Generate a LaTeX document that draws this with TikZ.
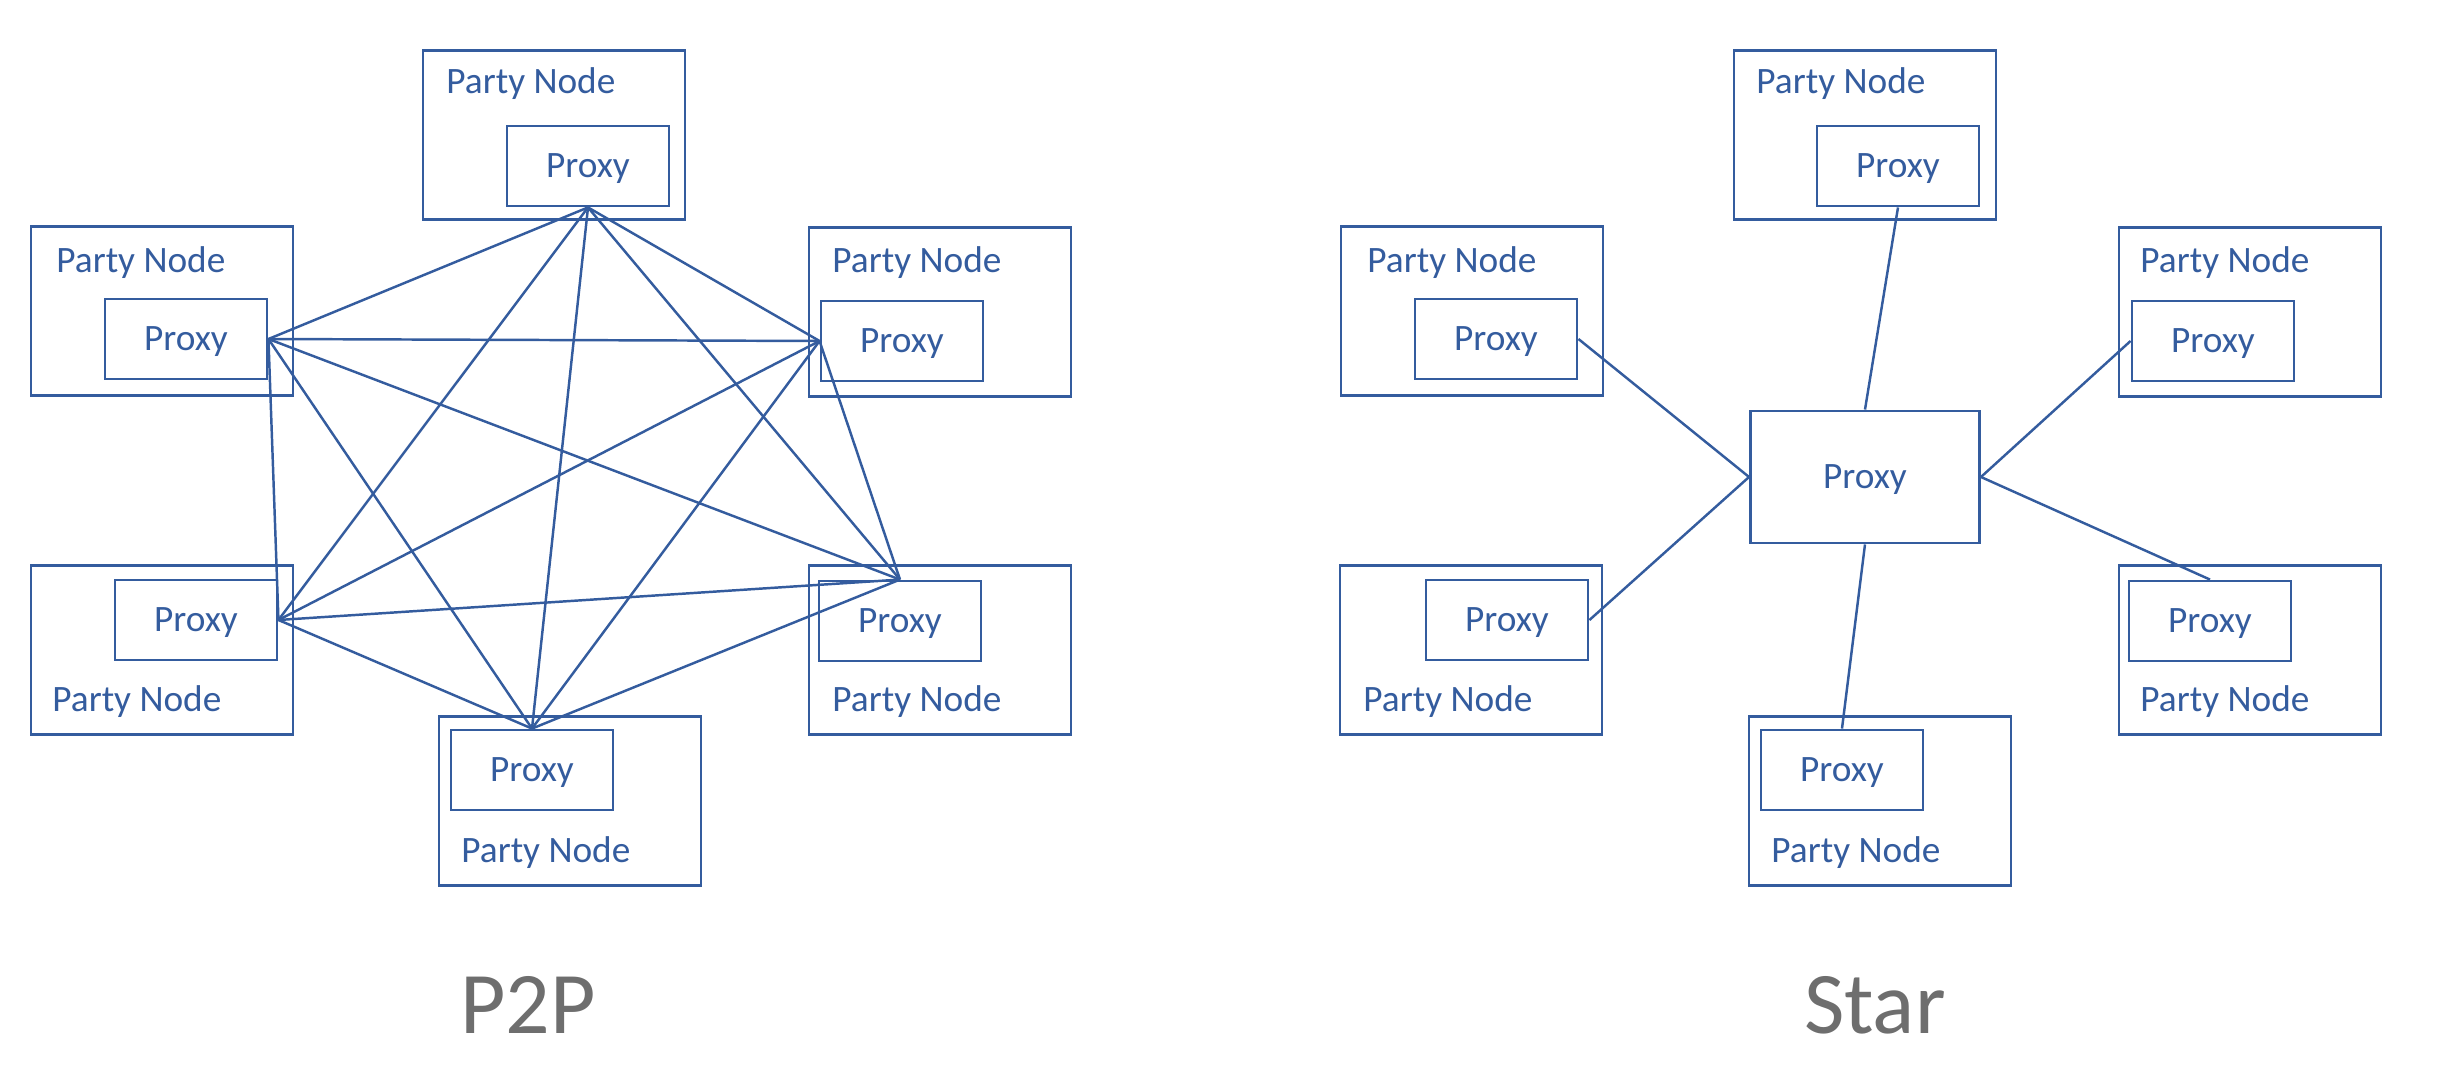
\documentclass[tikz,border=0pt]{standalone}
\usepackage{fontspec}
\setmainfont{Carlito}
\usetikzlibrary{shapes}
\definecolor{netblue}{RGB}{52,92,158}
\definecolor{capgray}{RGB}{110,110,110}

\begin{document}
\begin{tikzpicture}[x=0.01cm,y=-0.01cm,line width=0.8pt,
    party/.style={shape=rectangle,draw=netblue,minimum width=2.62cm,minimum height=1.69cm,inner sep=0pt},
    proxy/.style={shape=rectangle,draw=netblue,text=netblue,minimum width=1.62cm,minimum height=0.8cm,inner sep=0pt,text depth=0pt,font=\fontsize{10.6}{12}\selectfont},
    hub/.style={proxy,minimum width=2.29cm,minimum height=1.32cm},
    tag/.style={anchor=base west,inner sep=0pt,text=netblue,font=\fontsize{10.6}{12}\selectfont},
    title/.style={anchor=base,inner sep=0pt,text=capgray,font=\fontsize{25}{30}\selectfont},
    link/.style={draw=netblue,line width=0.7pt}]
                \useasboundingbox (0,0) rectangle (2462,1070);
                % P2P
                \node[party](pT)at(554, 135){};
                \node[tag](pTl)at(445, 94){Party Node};
                \node[proxy](pTx)at(588, 166){Proxy};
                \node[party](pUL)at(162, 311){};
                \node[tag](pULl)at(55, 273){Party Node};
                \node[proxy](pULx)at(186, 339){Proxy};
                \node[party](pUR)at(940, 312){};
                \node[tag](pURl)at(831, 273){Party Node};
                \node[proxy](pURx)at(902, 341){Proxy};
                \node[party](pLL)at(162, 650){};
                \node[tag](pLLl)at(51, 711){Party Node};
                \node[proxy](pLLx)at(196, 620){Proxy};
                \node[party](pLR)at(940, 650){};
                \node[tag](pLRl)at(831, 711){Party Node};
                \node[proxy](pLRx)at(900, 621){Proxy};
                \node[party](pB)at(570, 801){};
                \node[tag](pBl)at(460, 862){Party Node};
                \node[proxy](pBx)at(532, 770){Proxy};
                \node[title](pTitle)at(528, 1033){P2P};
                \path[link](pTx.south) edge (pULx.east)
                (pTx.south) edge (pURx.west)
                (pTx.south) edge (pLLx.east)
                (pTx.south) edge (pLRx.north)
                (pTx.south) edge (pBx.north)
                (pULx.east) edge (pURx.west)
                (pULx.east) edge (pLLx.east)
                (pULx.east) edge (pLRx.north)
                (pULx.east) edge (pBx.north)
                (pURx.west) edge (pLLx.east)
                (pURx.west) edge (pLRx.north)
                (pURx.west) edge (pBx.north)
                (pLLx.east) edge (pLRx.north)
                (pLLx.east) edge (pBx.north)
                (pLRx.north) edge (pBx.north);
                % Star
                \node[party](sT)at(1865, 135){};
                \node[tag](sTl)at(1755, 94){Party Node};
                \node[proxy](sTx)at(1898, 166){Proxy};
                \node[party](sUL)at(1472, 311){};
                \node[tag](sULl)at(1366, 273){Party Node};
                \node[proxy](sULx)at(1496, 339){Proxy};
                \node[party](sUR)at(2250, 312){};
                \node[tag](sURl)at(2139, 273){Party Node};
                \node[proxy](sURx)at(2213, 341){Proxy};
                \node[party](sLL)at(1471, 650){};
                \node[tag](sLLl)at(1362, 711){Party Node};
                \node[proxy](sLLx)at(1507, 620){Proxy};
                \node[party](sLR)at(2250, 650){};
                \node[tag](sLRl)at(2139, 711){Party Node};
                \node[proxy](sLRx)at(2210, 621){Proxy};
                \node[party](sB)at(1880, 801){};
                \node[tag](sBl)at(1770, 862){Party Node};
                \node[proxy](sBx)at(1842, 770){Proxy};
                \node[hub](sHub)at(1865, 477){Proxy};
                \node[title](sTitle)at(1875, 1033){Star};
                \path[link](sTx.south) edge (sHub.north)
                (sULx.east) edge (sHub.west)
                (sURx.west) edge (sHub.east)
                (sLLx.east) edge (sHub.west)
                (sLRx.north) edge (sHub.east)
                (sBx.north) edge (sHub.south);
            \end{tikzpicture}
\end{document}
